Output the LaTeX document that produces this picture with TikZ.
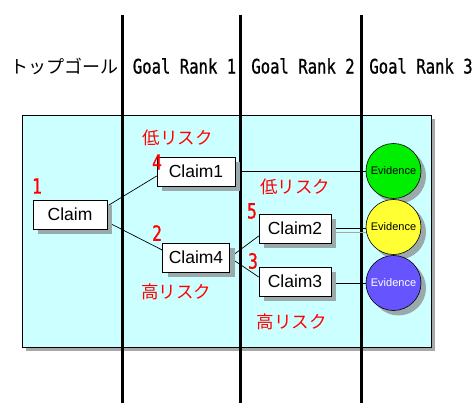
\documentclass[tikz,border=0pt]{standalone}
\usepackage{fontspec}
\setmainfont{Liberation Sans}
\newfontfamily\jp{Noto Sans CJK JP}
\newfontfamily\hdr[FakeStretch=0.78,FakeBold=0.8]{DejaVu Sans Mono}
\usetikzlibrary{shadows,calc}
\definecolor{panelfill}{HTML}{CCFFFF}
\definecolor{shgray}{HTML}{9AAAAA}
\definecolor{pshadow}{HTML}{A8A8A8}
\definecolor{evgreen}{HTML}{00EE00}
\definecolor{evyellow}{HTML}{FFFF33}
\definecolor{evpurple}{HTML}{6655FF}
\pgfdeclarelayer{bg}
\pgfsetlayers{bg,main}
\tikzset{
  claimbox/.style={draw=black, line width=0.6pt, fill=white, inner sep=0pt,
    minimum height=29pt, font=\fontsize{17.5}{17.5}\selectfont,
    drop shadow={shadow xshift=5pt, shadow yshift=-5pt, fill=shgray, opacity=1}},
  evid/.style={circle, draw=black, line width=0.6pt, minimum size=55pt, inner sep=0pt,
    font=\fontsize{11}{11}\selectfont,
    drop shadow={shadow xshift=5pt, shadow yshift=-5pt, fill=shgray, opacity=1}},
  risk/.style={text=red, inner sep=0pt, font=\jp\fontsize{17.5}{17.5}\selectfont},
  num/.style={text=red, inner sep=0pt, font=\hdr\fontsize{21}{21}\selectfont},
  head/.style={inner sep=0pt, font=\hdr\fontsize{20}{20}\selectfont},
  divider/.style={line width=3pt, black},
  conn/.style={line width=0.7pt, black}
}
\begin{document}
\begin{tikzpicture}[x=1pt,y=-1pt]
\useasboundingbox (0,0) rectangle (474,403);
% headers
\node[inner sep=0pt, font=\jp\fontsize{18}{18}\selectfont] (h0) at (64,66) {トップゴール};
\node[head] (h1) at (184.5,66) {Goal Rank 1};
\node[head] (h2) at (303,66) {Goal Rank 2};
\node[head] (h3) at (421,66) {Goal Rank 3};
% nodes
\node[claimbox, minimum width=74pt] (c0) at (70,214.5) {Claim};
\node[claimbox, minimum width=78pt] (c1) at (196,171.5) {Claim1};
\node[claimbox, minimum width=67pt] (c4) at (196,257.5) {Claim4};
\node[claimbox, minimum width=72pt] (c2) at (295,228.5) {Claim2};
\node[claimbox, minimum width=72pt] (c3) at (295,281.5) {Claim3};
\node[evid, fill=evgreen] (e1) at (393.5,171) {Evidence};
\node[evid, fill=evyellow] (e2) at (393.5,227) {Evidence};
\node[evid, fill=evpurple, text=white] (e3) at (393.5,283) {Evidence};
% labels
\node[num] (n1) at (37,186) {1};
\node[num] (n4) at (157,162) {4};
\node[num] (n2) at (157,233) {2};
\node[num] (n5) at (252,211) {5};
\node[num] (n3) at (253,261) {3};
\node[risk] (r1) at (177.5,138) {低リスク};
\node[risk] (r2) at (295,187) {低リスク};
\node[risk] (r3) at (176,292) {高リスク};
\node[risk] (r4) at (291.5,322) {高リスク};
\begin{pgfonlayer}{bg}
  \fill[white] (0,0) rectangle (474,403);
  \fill[pshadow] (26,119) rectangle (435,351);
  \draw[fill=panelfill, line width=0.8pt] (22,115) rectangle (431,347);
  \coordinate (v1t) at (122,15); \coordinate (v1b) at (122,403);
  \coordinate (v2t) at (240,15); \coordinate (v2b) at (240,403);
  \coordinate (v3t) at (361,15); \coordinate (v3b) at (361,403);
  \draw[divider] (v1t) -- (v1b);
  \draw[divider] (v2t) -- (v2b);
  \draw[divider] (v3t) -- (v3b);
  \draw[conn] ([yshift=8.5pt]c0.east) -- ([yshift=-4.5pt]c1.west);
  \draw[conn] ([yshift=-7.5pt]c0.east) -- ([yshift=7.5pt]c4.west);
  \draw[conn] (c4.east) -- ([yshift=-7.5pt]c2.west);
  \draw[conn] (c4.east) -- ([yshift=4.5pt]c3.west);
  \draw[conn] (c1.east) -- (c1.east -| e1.west);
  \draw[shgray, line width=0.7pt] ([xshift=5pt,yshift=-4pt]c2.east) -- ([yshift=-4pt]c2.east -| e2.west);
  \draw[conn] (c2.east) -- (c2.east -| e2.west);
  \draw[conn] ([yshift=-2pt]c3.east) -- ([yshift=-2pt]c3.east -| e3.west);
\end{pgfonlayer}
\end{tikzpicture}
\end{document}
